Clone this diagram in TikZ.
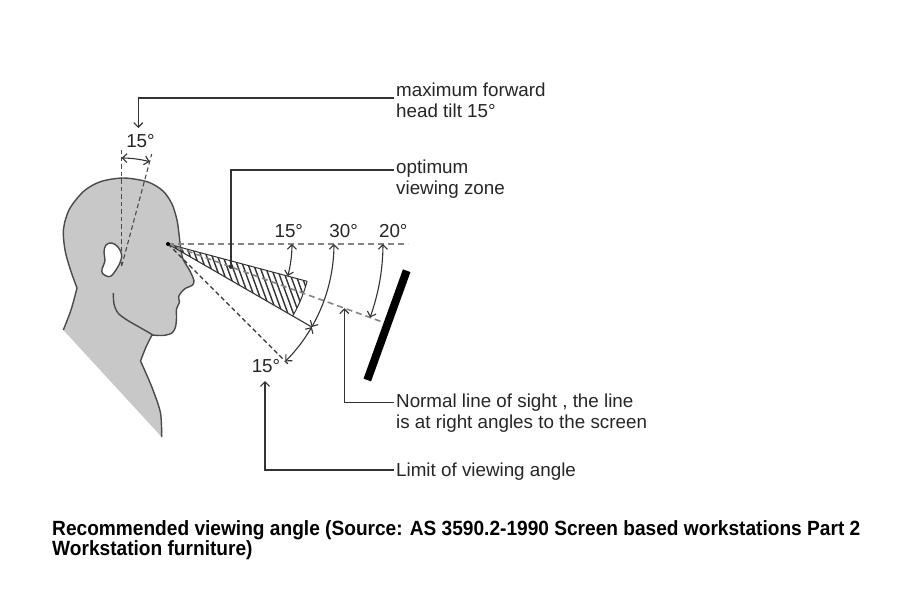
\documentclass[tikz,border=0pt]{standalone}
\usepackage{fontspec}
\setmainfont{Liberation Sans}
\newfontfamily\capfont[FakeStretch=0.928]{Liberation Sans}
\usetikzlibrary{arrows.meta,calc}
\definecolor{headgray}{HTML}{C8C8C8}
\definecolor{outl}{HTML}{4A4A4A}
\definecolor{ink}{HTML}{333333}
\definecolor{dashgray}{HTML}{858585}
\newcommand{\twolines}[2]{\vtop{\hbox{#1}\hbox{#2}}}
\begin{document}
\begin{tikzpicture}[x=1pt,y=-1pt,
  leader/.style={draw=ink, line width=1.2pt},
  tip/.style={-{Straight Barb[length=4.5pt,width=9pt]}},
  dim/.style={draw=ink, line width=1.1pt, {Straight Barb[length=4.5pt,width=9pt]}-{Straight Barb[length=4.5pt,width=9pt]}},
  sight/.style={draw=dashgray, line width=1.6pt, dash pattern=on 6pt off 4pt},
  limitline/.style={draw=ink, line width=1.1pt, dash pattern=on 4.5pt off 3pt},
  tiltline/.style={draw=outl, line width=1.1pt, dash pattern=on 4.5pt off 3pt},
  lbl/.style={font=\fontsize{18.8}{21.5}\selectfont, text=black!85, inner sep=0pt},
  callout/.style={lbl, anchor=base west, inner xsep=2pt, inner ysep=0pt},
]
\fill[white] (0,0) rectangle (900,614);
\useasboundingbox (0,0) rectangle (900,614);

% ---------- head ----------
\fill[headgray]
  plot[smooth,tension=0.5] coordinates {(161.7,437) (160.5,413) (153,390) (145,371) (140.5,361)}
  -- plot[smooth,tension=0.5] coordinates {(140.5,361) (146,347) (152,335)}
  -- plot[smooth,tension=0.5] coordinates {(152,335) (163,335.5) (172,333) (175.5,327) (176.5,318) (176.5,309) (179.5,302) (178.5,297) (181.5,292) (186,288) (192,285.5) (194,281) (190,271) (183,259) (180.5,247) (179,234) (177,220) (172,204) (163,191) (148,182) (124,178) (101,181.5) (84,191) (69.5,209) (63.5,229) (65,250) (70.5,270) (77,288)}
  -- plot[smooth,tension=0.5] coordinates {(77,288) (71,310) (63.3,330)}
  -- cycle;
\draw[outl, line width=1.4pt, line join=round]
  plot[smooth,tension=0.5] coordinates {(161.7,437) (160.5,413) (153,390) (145,371) (140.5,361)}
  -- plot[smooth,tension=0.5] coordinates {(140.5,361) (146,347) (152,335)}
  -- plot[smooth,tension=0.5] coordinates {(152,335) (163,335.5) (172,333) (175.5,327) (176.5,318) (176.5,309) (179.5,302) (178.5,297) (181.5,292) (186,288) (192,285.5) (194,281) (190,271) (183,259) (180.5,247) (179,234) (177,220) (172,204) (163,191) (148,182) (124,178) (101,181.5) (84,191) (69.5,209) (63.5,229) (65,250) (70.5,270) (77,288)}
  -- plot[smooth,tension=0.5] coordinates {(77,288) (71,310) (63.3,330)};
% ear
\filldraw[fill=white, draw=outl, line width=1.4pt]
  plot[smooth cycle,tension=0.6] coordinates {(111.7,243) (118,247) (121.7,255) (119.5,264) (116,270) (110,276.5) (103,274) (102,269) (105,261) (104,252) (106,245)};
% jaw
\draw[outl, line width=1.4pt]
  plot[smooth,tension=0.5] coordinates {(113.3,293) (114,304) (118,313) (127,320) (140,327.5) (153,335)};

% ---------- head tilt ----------
\coordinate (P) at (121.7,266);
\coordinate (Pv) at (121.7,150);
\coordinate (Pt) at (151.7,154);
\draw[tiltline] (P) -- (Pv);
\draw[tiltline] (P) -- (Pt);
\draw[dim] plot[domain=90:75, samples=15] ({121.7+108*cos(\x)},{266-108*sin(\x)});

% ---------- sight lines ----------
\coordinate (E) at (168,244);
\coordinate (H) at (408,244);
\coordinate (S) at (387.4,323.8);
\coordinate (L) at (289,365);
\coordinate (W1) at (307.1,281.3);
\coordinate (X30) at (311.8,327);

% hatched optimum zone
\begin{scope}
  \clip (E) -- (W1) -- plot[domain=15:30,samples=10] ({168+144*cos(\x)},{244+144*sin(\x)}) -- cycle;
  \foreach \i in {0,...,44} \draw[ink, line width=1.4pt] ({100+5.5*\i},220) -- ++(45,124);
\end{scope}
\draw[ink, line width=1pt] (E) -- (W1);
\draw[ink, line width=1pt] plot[domain=15:30,samples=10] ({168+144*cos(\x)},{244+144*sin(\x)});
\draw[ink, line width=1.1pt] (E) -- (X30);

\draw[sight] (E) -- (H);
\draw[sight] (E) -- (S);
\draw[limitline] (E) -- (L);
\fill[black] (E) circle[radius=2pt];

% angle arcs
\draw[dim] plot[domain=0:15,samples=12] ({168+124*cos(\x)},{244+124*sin(\x)});
\draw[dim] plot[domain=0:30,samples=20] ({168+166*cos(\x)},{244+166*sin(\x)});
\draw[dim] plot[domain=30:45,samples=12] ({168+166*cos(\x)},{244+166*sin(\x)});
\draw[dim] plot[domain=0:20,samples=16] ({168+215*cos(\x)},{244+215*sin(\x)});

% screen
\draw[black, line width=8pt] (406.7,270.7) -- (367.3,380);

% ---------- labels ----------
\node[lbl, anchor=base] (t15) at (140.5,147.3) {15°};
\node[lbl, anchor=base] (a15) at (288.8,237.3) {15°};
\node[lbl, anchor=base] (a30) at (343.6,237.3) {30°};
\node[lbl, anchor=base] (a20) at (393.3,237.3) {20°};
\node[lbl, anchor=base] (b15) at (266,372.7) {15°};

% ---------- callouts ----------
\node[callout] (tilt) at (394,96) {\twolines{maximum forward}{head tilt 15°}};
\node[callout] (opt) at (394,173) {\twolines{optimum}{viewing zone}};
\node[callout] (norm) at (394,407) {\twolines{Normal line of sight , the line}{is at right angles to the screen}};
\node[callout] (lim) at (394,476) {Limit of viewing angle};

\coordinate (tiltA) at (138.3,128);
\coordinate (optA) at (231,266.7);
\coordinate (normA) at (344.3,308.2);
\coordinate (limA) at (265,381);

\draw[leader, tip] ([yshift=-2pt]tilt.base west) -| (tiltA);
\draw[leader] ([yshift=3pt]opt.base west) -| (optA);
\fill[ink] (optA) circle[radius=2.2pt];
\draw[leader, tip] ([yshift=4.7pt]norm.base west) -| (normA);
\draw[leader, tip] ([yshift=6pt]lim.base west) -| (limA);

% ---------- caption ----------
\node[anchor=base west, inner sep=0pt, font=\capfont\bfseries\fontsize{20.6}{20}\selectfont] (cap) at (52,535)
  {\twolines{Recommended viewing angle (Source: AS 3590.2-1990 Screen based workstations Part 2}{Workstation furniture)}};
\end{tikzpicture}
\end{document}
